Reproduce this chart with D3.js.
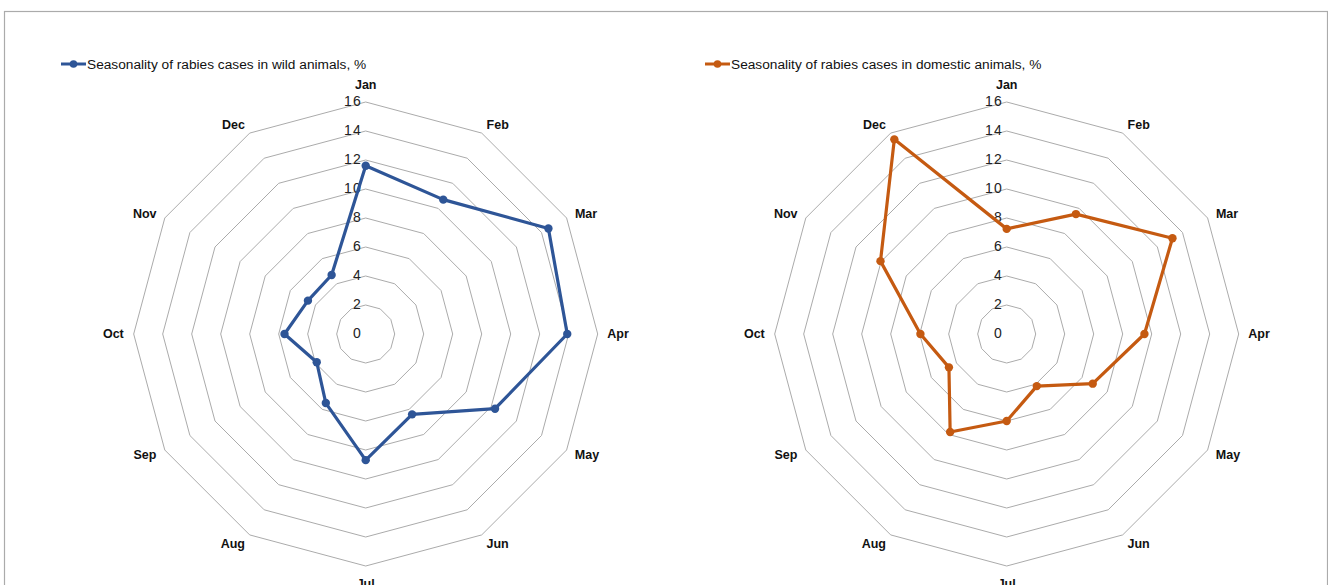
<!DOCTYPE html>
<html><head><meta charset="utf-8">
<script src="https://cdn.jsdelivr.net/npm/d3@7"></script>
<style>
body{margin:0;background:#fff;}
svg{display:block;font-family:"Liberation Sans",Arial,sans-serif;}
</style></head>
<body><svg id="c" width="1328" height="585"></svg>
<script>
const months = ["Jan","Feb","Mar","Apr","May","Jun","Jul","Aug","Sep","Oct","Nov","Dec"];
const wildValues = [11.6,10.7,14.55,13.9,10.3,6.4,8.7,5.5,3.9,5.6,4.6,4.7];
const domesticValues = [7.25,9.55,13.2,9.5,6.85,4.15,6.0,7.8,4.6,5.95,10.05,15.5];
const tickValues = [0,2,4,6,8,10,12,14,16];
const wildLabel = "Seasonality of rabies cases in wild animals, %";
const domesticLabel = "Seasonality of rabies cases in domestic animals, %";
const wildColor = "#2e5597";
const domesticColor = "#c55a11";

const svg = d3.select("#c");
svg.append("rect").attr("x",4.5).attr("y",11.5).attr("width",1323).attr("height",600)
  .attr("fill","none").attr("stroke","#ababab").attr("stroke-width",1.2);

function radar(cx, cy, values, color, label, legX){
  const g = svg.append("g").attr("transform",`translate(${cx},${cy})`);
  const r = d3.scaleLinear().domain([0,16]).range([0,232]);
  const ang = d3.scalePoint().domain(months).range([0, 2*Math.PI*11/12]);
  const pt = (m,v)=>[r(v)*Math.sin(ang(m)), -r(v)*Math.cos(ang(m))];
  // grid rings
  tickValues.filter(t=>t>0).forEach(t=>{
    g.append("path").attr("d", d3.line()(months.map(m=>pt(m,t))) + "Z")
      .attr("fill","none").attr("stroke","#ababab").attr("stroke-width",1);
  });
  // tick labels
  tickValues.forEach(t=>{
    g.append("text").attr("x",-4).attr("y",-r(t)).attr("dy","0.32em")
      .attr("text-anchor","end").attr("font-size",14).attr("letter-spacing",1)
      .attr("fill","#222").text(t);
  });
  // month labels placed just outside the outer ring vertex
  months.forEach(m=>{
    const a = ang(m), s = Math.sin(a), c = Math.cos(a);
    const t = g.append("text").attr("text-anchor","middle").attr("dy","0.35em")
      .attr("font-size",12.5).attr("font-weight","bold").attr("fill","#111").text(m);
    const hw = t.node().getBBox().width/2;
    const sx = Math.abs(s) < 1e-6 ? 0 : Math.sign(s);
    const sc = Math.abs(c) < 1e-6 ? 0 : Math.sign(c);
    const hh = sx === 0 ? 8 : 0;
    const R = 241.5;
    t.attr("x", R*s + sx*hw).attr("y", -R*c - sc*hh);
  });
  // series
  const pts = months.map((m,i)=>pt(m,values[i]));
  g.append("path").attr("d", d3.line()(pts)+"Z").attr("fill","none")
    .attr("stroke",color).attr("stroke-width",3.2).attr("stroke-linejoin","round");
  g.selectAll("circle.pt").data(pts).enter().append("circle")
    .attr("cx",d=>d[0]).attr("cy",d=>d[1]).attr("r",4.2).attr("fill",color);
  // legend
  const lg = svg.append("g").attr("transform",`translate(${legX},64)`);
  lg.append("line").attr("x1",0).attr("x2",25).attr("stroke",color).attr("stroke-width",3);
  lg.append("circle").attr("cx",12.5).attr("r",3.8).attr("fill",color);
  lg.append("text").attr("x",26).attr("dy","0.35em").attr("font-size",13.7).attr("fill","#111").text(label);
}
radar(365.7, 334, wildValues, wildColor, wildLabel, 61);
radar(1006.7, 334, domesticValues, domesticColor, domesticLabel, 705);
</script></body></html>
